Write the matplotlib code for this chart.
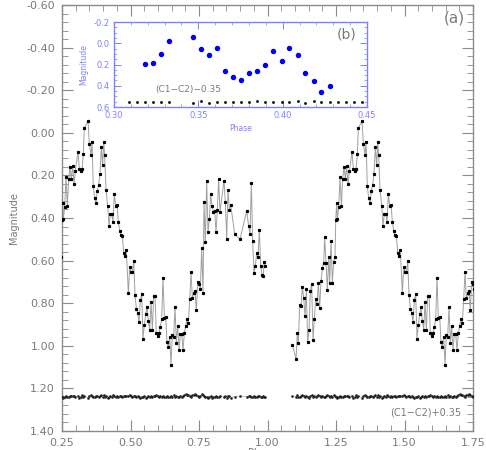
import matplotlib
matplotlib.use("Agg")
import matplotlib.pyplot as plt
import numpy as np
from matplotlib.ticker import MultipleLocator, FormatStrFormatter

# --- light curve of the variable, phases 0.09-0.99 (plotted twice, +1 cycle) ---
PHASE = [
    0.0906, 0.1040, 0.1089, 0.1125, 0.1174, 0.1223, 0.1271, 0.1320, 0.1369, 0.1417,
    0.1466, 0.1515, 0.1563, 0.1612, 0.1661, 0.1709, 0.1758, 0.1807, 0.1855, 0.1904,
    0.1953, 0.2001, 0.2050, 0.2086, 0.2135, 0.2184, 0.2232, 0.2269, 0.2318, 0.2366,
    0.2415, 0.2464, 0.2490,
    0.2524, 0.2549, 0.2597, 0.2646, 0.2695, 0.2743, 0.2792, 0.2841, 0.2889, 0.2938,
    0.2987, 0.3084, 0.3133, 0.3181, 0.3230, 0.3278, 0.3315, 0.3449, 0.3497, 0.3558,
    0.3595, 0.3643, 0.3692, 0.3741, 0.3789, 0.3838, 0.3887, 0.3935, 0.3984, 0.4021,
    0.4057, 0.4106, 0.4167, 0.4215, 0.4264, 0.4313, 0.4361, 0.4410, 0.4459, 0.4507,
    0.4556, 0.4605, 0.4653, 0.4702, 0.4751, 0.4799, 0.4848,
    0.4921, 0.4970, 0.5018, 0.5067, 0.5116, 0.5164, 0.5213, 0.5262, 0.5310, 0.5359,
    0.5408, 0.5456, 0.5505, 0.5554, 0.5602, 0.5651, 0.5700, 0.5748, 0.5797, 0.5846,
    0.5894, 0.5943, 0.5992, 0.6040, 0.6089, 0.6138, 0.6186, 0.6235, 0.6284, 0.6332,
    0.6381, 0.6430, 0.6478, 0.6527, 0.6575, 0.6624, 0.6673, 0.6721, 0.6770, 0.6819,
    0.6867, 0.6916, 0.6965, 0.7013, 0.7062, 0.7111, 0.7159, 0.7208, 0.7257, 0.7305,
    0.7354, 0.7403, 0.7451, 0.7500, 0.7549, 0.7597, 0.7646,
    0.7682, 0.7731, 0.7780, 0.7828, 0.7877, 0.7926, 0.7974, 0.8023, 0.8072, 0.8120,
    0.8169, 0.8217, 0.8266, 0.8412, 0.8461, 0.8510, 0.8558, 0.8607, 0.8656, 0.8802,
    0.8996,
    0.9240, 0.9313, 0.9361, 0.9410, 0.9459, 0.9507, 0.9556, 0.9605, 0.9653, 0.9702,
    0.9750, 0.9799, 0.9847, 0.9872, 0.9921,
]
MAG = [
    0.994, 1.062, 0.942, 0.987, 0.810, 0.814, 0.722, 0.774, 0.861, 0.735,
    0.983, 0.927, 0.743, 0.711, 0.971, 0.873, 0.782, 0.806, 0.703, 0.821,
    0.696, 0.637, 0.609, 0.491, 0.609, 0.740, 0.585, 0.703, 0.507, 0.703,
    0.606, 0.585, 0.408,
    0.331, 0.405, 0.350, 0.208, 0.342, 0.216, 0.161, 0.216, 0.156, 0.240,
    0.177, 0.090, 0.169, 0.177, 0.172, 0.098, -0.023, -0.054, 0.051, 0.103,
    0.043, 0.252, 0.307, 0.329, 0.271, 0.244, 0.192, 0.067, 0.153, 0.043,
    0.106, 0.268, 0.342, 0.436, 0.381, 0.381, 0.417, 0.287, 0.342, 0.339,
    0.417, 0.460, 0.480, 0.483, 0.562, 0.578, 0.550,
    0.754, 0.630, 0.652, 0.652, 0.604, 0.760, 0.826, 0.845, 0.889, 0.785,
    0.757, 0.966, 0.902, 0.853, 0.817, 0.884, 0.925, 0.795, 0.924, 0.768,
    0.765, 0.942, 0.955, 0.942, 0.911, 0.872, 0.680, 0.869, 0.866, 0.982,
    1.005, 0.958, 1.090, 0.947, 0.958, 0.817, 0.987, 0.906, 1.021, 0.946,
    0.944, 1.018, 0.942, 0.905, 0.876, 0.892, 0.782, 0.655, 0.777, 0.751,
    0.743, 0.834, 0.699, 0.711, 0.735, 0.542, 0.751,
    0.326, 0.515, 0.224, 0.468, 0.405, 0.287, 0.345, 0.370, 0.367, 0.468,
    0.364, 0.216, 0.370, 0.224, 0.326, 0.499, 0.267, 0.361, 0.339, 0.475,
    0.499,
    0.368, 0.439, 0.475, 0.235, 0.510, 0.659, 0.625, 0.565, 0.585, 0.455,
    0.625, 0.668, 0.672, 0.606, 0.625,
]
# comparison star (C1-C2)+0.35, same phases
COMP = [
    1.236, 1.240, 1.233, 1.238, 1.242, 1.235, 1.231, 1.237, 1.240, 1.234,
    1.238, 1.243, 1.236, 1.232, 1.239, 1.235, 1.241, 1.237, 1.233, 1.236,
    1.240, 1.234, 1.238, 1.242, 1.236, 1.231, 1.237, 1.240, 1.235, 1.239,
    1.233, 1.237, 1.241,
    1.238, 1.243, 1.239, 1.236, 1.241, 1.238, 1.237, 1.235, 1.236, 1.235,
    1.241, 1.234, 1.244, 1.238, 1.233, 1.240, 1.236, 1.243, 1.235, 1.231,
    1.236, 1.240, 1.238, 1.236, 1.237, 1.239, 1.236, 1.233, 1.238, 1.232,
    1.240, 1.236, 1.243, 1.238, 1.235, 1.241, 1.233, 1.237, 1.239, 1.236,
    1.240, 1.236, 1.237, 1.238, 1.236, 1.235, 1.237,
    1.236, 1.229, 1.234, 1.238, 1.235, 1.237, 1.240, 1.236, 1.239, 1.243,
    1.238, 1.241, 1.236, 1.244, 1.240, 1.236, 1.238, 1.237, 1.240, 1.235,
    1.236, 1.233, 1.237, 1.241, 1.235, 1.238, 1.236, 1.240, 1.239, 1.237,
    1.241, 1.238, 1.236, 1.240, 1.233, 1.238, 1.236, 1.239, 1.241, 1.234,
    1.238, 1.235, 1.232, 1.228, 1.233, 1.230, 1.236, 1.241, 1.232, 1.229,
    1.228, 1.232, 1.236, 1.240, 1.234, 1.227, 1.231,
    1.236, 1.241, 1.238, 1.243, 1.240, 1.236, 1.244, 1.239, 1.238, 1.236,
    1.238, 1.242, 1.236, 1.240, 1.236, 1.243, 1.234, 1.237, 1.244, 1.238,
    1.236,
    1.238, 1.236, 1.237, 1.238, 1.238, 1.236, 1.240, 1.238, 1.237, 1.236,
    1.240, 1.239, 1.236, 1.238, 1.239,
]

# --- inset (b): zoom of phases 0.30-0.45 ---
INSET_PHASE = [0.3182, 0.3230, 0.3277, 0.3325, 0.3470, 0.3517, 0.3565, 0.3610,
               0.3660, 0.3705, 0.3755, 0.3800, 0.3850, 0.3898, 0.3945, 0.3993,
               0.4040, 0.4088, 0.4135, 0.4183, 0.4230, 0.4280]
INSET_MAG = [0.192, 0.185, 0.100, -0.020, -0.056, 0.050, 0.107, 0.048,
             0.264, 0.320, 0.346, 0.284, 0.257, 0.200, 0.074, 0.163,
             0.045, 0.114, 0.277, 0.359, 0.457, 0.398]
INSET_COMP_PHASE = [0.3089, 0.3137, 0.3184, 0.3232, 0.3279, 0.3327, 0.3470,
                    0.3517, 0.3565, 0.3610, 0.3660, 0.3705, 0.3755, 0.3802,
                    0.3850, 0.3898, 0.3945, 0.3993, 0.4040, 0.4088, 0.4135,
                    0.4183, 0.4230, 0.4278, 0.4326, 0.4373, 0.4421, 0.4468]
INSET_COMP = [0.555, 0.555, 0.555, 0.555, 0.555, 0.555, 0.561,
              0.548, 0.561, 0.552, 0.552, 0.555, 0.555, 0.555,
              0.542, 0.555, 0.555, 0.555, 0.555, 0.545, 0.561,
              0.548, 0.555, 0.555, 0.555, 0.555, 0.555, 0.555]

assert len(PHASE) == len(MAG) == len(COMP)

GREY = "#8a8a8a"
TXT = "#7a7a7a"
ILINE = "#8080ff"

ph = np.array(PHASE)

fig = plt.figure(figsize=(4.86, 4.50), dpi=100)
ax = fig.add_axes([0.1276, 0.0422, 0.8457, 0.9467])

# data plotted for this cycle and the next one
for shift in (0, 1):
    ax.plot(ph + shift, MAG, "-", color="#a0a0a0", lw=0.7, zorder=2)
    ax.plot(ph + shift, MAG, "s", color="black", ms=1.3, zorder=3)
    ax.plot(ph + shift, COMP, "-", color="#b0b0b0", lw=0.5, zorder=2)
    ax.plot(ph + shift, COMP, "s", color="#222222", ms=0.8, zorder=3)

ax.set_xlim(0.25, 1.75)
ax.set_ylim(1.40, -0.60)
ax.xaxis.set_major_locator(MultipleLocator(0.25))
ax.xaxis.set_minor_locator(MultipleLocator(0.05))
ax.yaxis.set_major_locator(MultipleLocator(0.20))
ax.yaxis.set_minor_locator(MultipleLocator(0.04))
ax.xaxis.set_major_formatter(FormatStrFormatter("%.2f"))
ax.yaxis.set_major_formatter(FormatStrFormatter("%.2f"))
ax.tick_params(which="both", direction="in", top=True, right=True,
               color=GREY, labelcolor=TXT, labelsize=8)
ax.tick_params(which="major", length=8, width=0.8, pad=5)
ax.tick_params(which="minor", length=4, width=0.6)
for s in ax.spines.values():
    s.set_color(GREY)
    s.set_linewidth(1.0)
ax.set_ylabel("Magnitude", color=TXT, fontsize=7)
ax.yaxis.set_label_coords(-0.105, 0.5)
fig.text(0.54, -0.006, "Phase", color=TXT, fontsize=7, ha="center", va="center")
ax.text(0.981, 0.986, "(a)", transform=ax.transAxes, color=TXT, fontsize=11,
        ha="right", va="top")
ax.text(1.447, 1.315, "(C1\u2212C2)+0.35", color=TXT, fontsize=7, va="center")

# inset
ins = fig.add_axes([0.2346, 0.7622, 0.5206, 0.1889])
ins.plot(INSET_PHASE, INSET_MAG, "o", color="blue", ms=2.9, zorder=3)
ins.plot(INSET_COMP_PHASE, INSET_COMP, "s", color="black", ms=0.9, zorder=3)
ins.set_xlim(0.30, 0.45)
ins.set_ylim(0.6, -0.2)
ins.xaxis.set_major_locator(MultipleLocator(0.05))
ins.xaxis.set_minor_locator(MultipleLocator(0.01))
ins.yaxis.set_major_locator(MultipleLocator(0.2))
ins.yaxis.set_minor_locator(MultipleLocator(0.05))
ins.xaxis.set_major_formatter(FormatStrFormatter("%.2f"))
ins.yaxis.set_major_formatter(FormatStrFormatter("%.1f"))
ins.tick_params(which="both", direction="in", top=True, right=True,
                color=ILINE, labelcolor=ILINE, labelsize=6)
ins.tick_params(which="major", length=5, width=0.7, pad=3)
ins.tick_params(which="minor", length=2.5, width=0.5)
for s in ins.spines.values():
    s.set_color(ILINE)
    s.set_linewidth(1.0)
ins.set_xlabel("Phase", color=ILINE, fontsize=5.5, labelpad=3)
ins.set_ylabel("Magnitude", color=ILINE, fontsize=5.5, labelpad=4)
ins.text(0.96, 0.93, "(b)", transform=ins.transAxes, color=TXT, fontsize=10,
         ha="right", va="top")
ins.text(0.3245, 0.435, "(C1\u2212C2)\u22120.35", color=TXT, fontsize=6.5,
         va="center")

fig.savefig("out.png", dpi=100)
